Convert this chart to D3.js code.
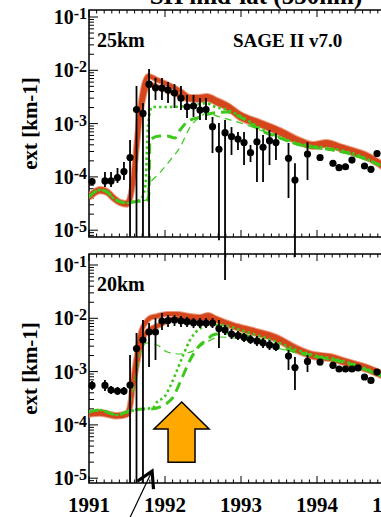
<!DOCTYPE html>
<html>
<head>
<meta charset="utf-8">
<script src="https://cdn.jsdelivr.net/npm/d3@7"></script>
<style>
  body { margin: 0; background: #fff; }
  svg text { font-family: "Liberation Serif", "Times New Roman", serif; font-weight: bold; fill: #000; }
</style>
</head>
<body>
<div id="chart"></div>
<script>
// ---- data (decimal year, extinction km-1) ----
const xTickYears = [1991, 1992, 1993, 1994, 1995];
const yTickExps = [-5, -4, -3, -2, -1];

// SAGE II v7.0 monthly means, 25 km
const obs25Year = [1991.04, 1991.21, 1991.29, 1991.375, 1991.46, 1991.54, 1991.625, 1991.71, 1991.79, 1991.875,
  1991.96, 1992.04, 1992.125, 1992.21, 1992.29, 1992.375, 1992.46, 1992.54, 1992.625, 1992.71,
  1992.79, 1992.875, 1992.96, 1993.04, 1993.125, 1993.21, 1993.29, 1993.375, 1993.46, 1993.625,
  1993.71, 1993.875, 1994.04, 1994.21, 1994.29, 1994.375, 1994.46, 1994.625, 1994.71, 1994.79];
const obs25Ext = [8.2e-5, 8.4e-5, 8.4e-5, 9.7e-5, 1.26e-4, 2.3e-4, 1.84e-3, 1.55e-3, 5.5e-3, 4.7e-3,
  4.66e-3, 4.27e-3, 3.75e-3, 3.0e-3, 2.07e-3, 2.14e-3, 1.8e-3, 1.84e-3, 8.75e-4, 3.3e-4,
  6.75e-4, 5.73e-4, 5.14e-4, 4.4e-4, 2.85e-4, 4.57e-4, 3.59e-4, 4.78e-4, 4.4e-4, 2.23e-4,
  8.75e-5, 2.69e-4, 2.31e-4, 1.8e-4, 1.49e-4, 1.55e-4, 2.07e-4, 1.6e-4, 1.39e-4, 2.75e-4];
const obs25Lo = [7.05e-5, 6.46e-5, 6.46e-5, 7.7e-5, 8.75e-5, 7.5e-6, 7.5e-6, 7.5e-6, 7.5e-6, 2.77e-3,
  2.77e-3, 2.43e-3, 1.96e-3, 1.8e-3, 1.27e-3, 1.33e-3, 1.17e-3, 1.17e-3, 2.8e-4, 6.5e-6,
  1.16e-6, 2.58e-4, 3.2e-4, 1.67e-4, 1.9e-4, 8.0e-5, 8.0e-5, 1.67e-4, 2.07e-4, 4.02e-5,
  3.14e-6, 8.75e-5, null, null, null, null, null, null, null, null];
const obs25Hi = [9.5e-5, 1.24e-4, 1.24e-4, 1.47e-4, 1.9e-4, 4.92e-4, 5.07e-3, 2.43e-3, 1.06e-2, 7.2e-3,
  7.2e-3, 6.0e-3, 5.5e-3, 5.07e-3, 3.44e-3, 3.44e-3, 3.02e-3, 3.02e-3, 1.33e-3, 1.03e-3,
  1.17e-3, 8.6e-4, 6.95e-4, 6.95e-4, 3.98e-4, 8.3e-4, 6.1e-4, 7.6e-4, 6.6e-4, 4.33e-4,
  1.8e-4, 4.52e-4, null, null, null, null, null, null, null, null];

// SAGE II v7.0 monthly means, 20 km
const obs20Year = [1991.04, 1991.21, 1991.29, 1991.375, 1991.46, 1991.54, 1991.625, 1991.71, 1991.79, 1991.875,
  1991.96, 1992.04, 1992.125, 1992.21, 1992.29, 1992.375, 1992.46, 1992.54, 1992.625, 1992.71,
  1992.79, 1992.875, 1992.96, 1993.04, 1993.125, 1993.21, 1993.29, 1993.375, 1993.46, 1993.625,
  1993.71, 1993.875, 1994.04, 1994.21, 1994.29, 1994.375, 1994.46, 1994.54, 1994.625, 1994.71, 1994.79];
const obs20Ext = [5.5e-4, 5.5e-4, 4.52e-4, 4.33e-4, 4.33e-4, 5.6e-4, 2.71e-3, 3.92e-3, 5.53e-3, 5.53e-3,
  8.9e-3, 9.1e-3, 9.3e-3, 8.9e-3, 8.63e-3, 8.27e-3, 8.17e-3, 8.17e-3, 8.17e-3, 6.44e-3,
  6.03e-3, 5.07e-3, 4.75e-3, 4.4e-3, 4.0e-3, 3.75e-3, 3.48e-3, 3.16e-3, 2.93e-3, 1.96e-3,
  1.19e-3, 1.55e-3, 1.51e-3, 1.31e-3, 1.12e-3, 1.12e-3, 1.12e-3, 1.17e-3, 7.92e-4, 6.84e-4, 9.8e-4];
const obs20Lo = [4.52e-4, 4.33e-4, 3.8e-4, 3.64e-4, 3.64e-4, 8.1e-6, 8.1e-6, 8.1e-6, 1.22e-3, 1.65e-3,
  6.03e-3, 6.87e-3, 7.18e-3, 6.87e-3, 6.87e-3, 6.58e-3, 6.58e-3, 6.58e-3, 6.58e-3, 2.77e-3,
  4.86e-3, 4.09e-3, 3.92e-3, 3.59e-3, 3.3e-3, 3.02e-3, 2.77e-3, 2.54e-3, 2.43e-3, 1.07e-3,
  4.52e-4, 9.8e-4, null, null, null, null, null, null, null, null, null];
const obs20Hi = [6.67e-4, 6.95e-4, 5.37e-4, 5.14e-4, 5.14e-4, 2.05e-3, 5.3e-3, 9.3e-3, 8.17e-3, 1.01e-2,
  1.26e-2, 1.15e-2, 1.15e-2, 1.1e-2, 1.06e-2, 1.01e-2, 1.01e-2, 1.01e-2, 1.01e-2, 9.3e-3,
  7.5e-3, 6.3e-3, 5.78e-3, 5.3e-3, 4.86e-3, 4.66e-3, 4.27e-3, 3.92e-3, 3.59e-3, 2.54e-3,
  1.88e-3, 2.05e-3, null, null, null, null, null, null, null, null, null];

// model runs, 25 km
const red25a = [[1991.0,4.4e-5],[1991.145,5.9e-5],[1991.24,5.4e-5],[1991.32,4.2e-5],[1991.41,3.4e-5],[1991.5,3.24e-5],
  [1991.54,4.2e-5],[1991.58,8.75e-5],[1991.63,4.9e-4],[1991.67,1.8e-3],[1991.71,4.3e-3],[1991.78,7.8e-3],
  [1991.9,6.6e-3],[1992.03,5.5e-3],[1992.2,4.1e-3],[1992.33,3.16e-3],[1992.46,3.16e-3],[1992.55,3.3e-3],
  [1992.68,2.77e-3],[1992.82,2.23e-3],[1992.99,1.51e-3],[1993.25,1.07e-3],[1993.51,7.6e-4],[1993.78,4.92e-4],
  [1993.95,4.14e-4],[1994.13,4.52e-4],[1994.3,3.8e-4],[1994.47,3.2e-4],[1994.66,2.58e-4],[1994.88,1.67e-4]];
const red25b = [[1991.0,4.0e-5],[1991.145,5.4e-5],[1991.24,5.0e-5],[1991.32,3.9e-5],[1991.41,3.2e-5],[1991.5,3.0e-5],
  [1991.54,3.8e-5],[1991.58,8.0e-5],[1991.63,3.8e-4],[1991.67,1.27e-3],[1991.72,3.3e-3],[1991.78,5.5e-3],
  [1991.93,4.66e-3],[1992.1,3.9e-3],[1992.29,2.9e-3],[1992.46,2.77e-3],[1992.55,2.9e-3],[1992.68,2.43e-3],
  [1992.82,1.96e-3],[1992.99,1.27e-3],[1993.25,9.4e-4],[1993.51,6.6e-4],[1993.78,4.33e-4],[1993.95,3.64e-4],
  [1994.13,3.98e-4],[1994.3,3.33e-4],[1994.47,2.8e-4],[1994.66,2.26e-4],[1994.88,1.47e-4]];
const dot25 = [[1991.0,4.2e-5],[1991.145,5.7e-5],[1991.24,5.2e-5],[1991.32,4.0e-5],[1991.41,3.4e-5],[1991.5,3.24e-5],
  [1991.57,3.4e-5],[1991.67,3.7e-5],[1991.74,6.5e-5],[1991.78,1.03e-3],[1991.83,2.05e-3],[1992.03,2.05e-3],
  [1992.29,2.14e-3],[1992.46,2.33e-3],[1992.55,2.43e-3],[1992.63,2.14e-3],[1992.82,1.8e-3],[1992.99,1.39e-3],
  [1993.25,8.3e-4],[1993.51,5.6e-4],[1993.78,4.14e-4],[1994.04,3.64e-4],[1994.3,3.2e-4],[1994.57,2.47e-4],[1994.88,1.47e-4]];
const dash25 = [[1991.0,4.2e-5],[1991.145,5.7e-5],[1991.24,5.2e-5],[1991.32,4.0e-5],[1991.41,3.4e-5],[1991.5,3.24e-5],
  [1991.6,3.4e-5],[1991.78,3.7e-5],[1991.79,5.7e-5],[1991.8,4.92e-4],[1991.93,5.85e-4],[1992.03,5.85e-4],
  [1992.13,5.37e-4],[1992.2,7.6e-4],[1992.29,1.07e-3],[1992.46,1.33e-3],[1992.63,1.58e-3],[1992.82,1.65e-3],
  [1992.99,1.33e-3],[1993.25,7.6e-4],[1993.51,5.37e-4],[1993.78,3.98e-4],[1994.04,3.48e-4],[1994.3,3.06e-4],
  [1994.57,2.36e-4],[1994.88,1.53e-4]];
const thin25 = [[1991.0,4.2e-5],[1991.145,5.7e-5],[1991.24,5.2e-5],[1991.32,4.0e-5],[1991.41,3.4e-5],[1991.5,3.24e-5],
  [1991.6,3.4e-5],[1991.76,3.7e-5],[1991.78,6.46e-5],[1991.93,1.18e-4],[1992.07,2.07e-4],[1992.2,3.64e-4],
  [1992.33,8.6e-4],[1992.46,1.33e-3],[1992.55,1.58e-3],[1992.72,1.33e-3],[1992.99,1.03e-3],[1993.25,7.6e-4],
  [1993.51,5.37e-4],[1993.78,3.8e-4],[1994.04,3.33e-4],[1994.3,2.92e-4],[1994.57,2.26e-4],[1994.88,1.47e-4]];

// model runs, 20 km
const red20a = [[1991.0,1.67e-4],[1991.145,1.75e-4],[1991.28,1.6e-4],[1991.37,1.53e-4],[1991.5,1.67e-4],[1991.54,2.36e-4],
  [1991.58,6.95e-4],[1991.63,2.05e-3],[1991.68,5.3e-3],[1991.75,8.5e-3],[1991.8,1.01e-2],[1991.895,1.1e-2],
  [1992.03,1.2e-2],[1992.16,1.2e-2],[1992.33,1.1e-2],[1992.46,1.06e-2],[1992.57,1.15e-2],[1992.66,1.01e-2],
  [1992.9,7.5e-3],[1993.16,6.03e-3],[1993.47,4.46e-3],[1993.74,2.77e-3],[1993.95,2.14e-3],[1994.17,1.96e-3],
  [1994.395,1.58e-3],[1994.66,1.22e-3],[1994.88,9.0e-4]];
const red20b = [[1991.0,1.55e-4],[1991.145,1.62e-4],[1991.28,1.5e-4],[1991.37,1.43e-4],[1991.5,1.55e-4],[1991.54,2.1e-4],
  [1991.58,5.6e-4],[1991.63,1.33e-3],[1991.68,3.16e-3],[1991.76,5.53e-3],[1991.93,7.5e-3],[1992.1,9.7e-3],
  [1992.29,1.01e-2],[1992.46,1.01e-2],[1992.55,1.01e-2],[1992.66,9.3e-3],[1992.9,6.87e-3],[1993.16,5.3e-3],
  [1993.47,3.92e-3],[1993.74,2.43e-3],[1993.95,1.88e-3],[1994.17,1.72e-3],[1994.395,1.39e-3],[1994.66,1.07e-3],[1994.88,7.92e-4]];
const dot20 = [[1991.0,1.75e-4],[1991.145,1.9e-4],[1991.37,1.53e-4],[1991.5,1.75e-4],[1991.71,1.99e-4],[1991.84,2.07e-4],
  [1991.895,2.69e-4],[1992.0,3.48e-4],[1992.07,5.37e-4],[1992.16,1.07e-3],[1992.24,2.05e-3],[1992.33,3.92e-3],
  [1992.42,5.78e-3],[1992.55,7.18e-3],[1992.72,7.5e-3],[1992.99,6.03e-3],[1993.16,5.07e-3],[1993.47,3.59e-3],
  [1993.74,2.54e-3],[1993.95,2.05e-3],[1994.17,1.8e-3],[1994.395,1.51e-3],[1994.66,1.12e-3],[1994.88,8.26e-4]];
const dash20 = [[1991.0,1.75e-4],[1991.145,1.9e-4],[1991.37,1.53e-4],[1991.5,1.75e-4],[1991.71,1.99e-4],[1991.8,1.99e-4],
  [1992.03,2.58e-4],[1992.1,3.2e-4],[1992.2,6.38e-4],[1992.33,1.65e-3],[1992.46,3.16e-3],[1992.55,3.92e-3],
  [1992.63,4.86e-3],[1992.79,5.3e-3],[1993.03,4.86e-3],[1993.25,3.92e-3],[1993.47,3.02e-3],[1993.74,2.33e-3],
  [1993.95,1.96e-3],[1994.17,1.72e-3],[1994.395,1.45e-3],[1994.66,1.07e-3],[1994.88,7.92e-4]];
const thin20 = [[1991.0,1.75e-4],[1991.145,1.9e-4],[1991.37,1.53e-4],[1991.5,1.75e-4],[1991.58,4.52e-4],[1991.63,1.07e-3],
  [1991.68,2.33e-3],[1991.76,3.44e-3],[1991.895,3.16e-3],[1992.03,2.33e-3],[1992.2,2.14e-3],[1992.37,2.43e-3],
  [1992.55,3.59e-3],[1992.72,4.46e-3],[1992.9,4.27e-3],[1993.16,3.59e-3],[1993.47,2.77e-3],[1993.74,2.23e-3],
  [1993.95,1.88e-3],[1994.17,1.65e-3],[1994.395,1.39e-3],[1994.66,1.03e-3],[1994.88,7.6e-4]];

// annotations (20 km panel, data coords)
const upArrowYear = [1992.22, 1992.58, 1992.395, 1992.395, 1992.04, 1992.04, 1991.855];
const upArrowExt = [2.69e-4, 8.4e-5, 8.4e-5, 2.0e-5, 2.0e-5, 8.4e-5, 8.4e-5];
const eruptArrow = { from: [1991.52, 1.6e-6], to: [1991.83, 1.36e-5] };

// ---- layout ----
const W = 381, H = 517;
const left = 89, right = 393;
const decade = 53.3;
const red = '#d5461c', redEdge = '#eb9a7c', green = '#3ec81c';

const x = d3.scaleLinear().domain([1991, 1995]).range([left, right]);

const panels = [
  { top: 10, bottom: 237, y1: 17, label: '25km', obsY: obs25Year, obsV: obs25Ext, lo: obs25Lo, hi: obs25Hi,
    red: [red25a, red25b], dot: dot25, dash: dash25, thin: thin25 },
  { top: 254, bottom: 483, y1: 265, label: '20km', obsY: obs20Year, obsV: obs20Ext, lo: obs20Lo, hi: obs20Hi,
    red: [red20a, red20b], dot: dot20, dash: dash20, thin: thin20 }
];

const svg = d3.select('#chart').append('svg')
  .attr('width', W)
  .attr('height', H)
  .style('display', 'block');

// title, mostly cut off at the top
svg.append('text')
  .attr('x', 256).attr('y', 4)
  .attr('text-anchor', 'middle')
  .style('font-size', '25px')
  .text('SH mid-lat (550nm)');

panels.forEach((p, i) => {
  const y = d3.scaleLog().domain([1e-5, 1e-1]).range([p.y1 + 4 * decade, p.y1]);
  const g = svg.append('g');

  g.append('clipPath').attr('id', 'clip' + i)
    .append('rect')
    .attr('x', left).attr('y', p.top)
    .attr('width', right - left).attr('height', p.bottom - p.top);

  // frame
  g.append('rect')
    .attr('x', left).attr('y', p.top)
    .attr('width', right - left).attr('height', p.bottom - p.top)
    .attr('fill', 'none').attr('stroke', '#000').attr('stroke-width', 1.5);

  // log ticks on left axis
  const yt = [];
  for (let e = -6; e <= 0; e++) {
    for (let k = 1; k <= 9; k++) yt.push({ v: k * Math.pow(10, e), major: k === 1 });
  }
  g.selectAll('.yt').data(yt.filter(t => y(t.v) > p.top + 0.5 && y(t.v) < p.bottom - 0.5))
    .enter().append('line')
    .attr('x1', left).attr('x2', t => left + (t.major ? 9 : 5))
    .attr('y1', t => y(t.v)).attr('y2', t => y(t.v))
    .attr('stroke', '#000').attr('stroke-width', 1);

  // time ticks, top and bottom
  const xt = d3.range(0, 41).map(k => ({ yr: 1991 + k / 10, major: k % 10 === 0 }));
  [p.bottom, p.top].forEach((edge, j) => {
    const dir = j === 0 ? -1 : 1;
    g.selectAll('.xt' + j).data(xt).enter().append('line')
      .attr('x1', t => x(t.yr)).attr('x2', t => x(t.yr))
      .attr('y1', edge).attr('y2', t => edge + dir * (t.major ? 7 : 3.5))
      .attr('stroke', '#000').attr('stroke-width', 1);
  });

  // y tick labels 10^n
  const lab = g.selectAll('.ylab').data(yTickExps).enter().append('text')
    .attr('x', 87).attr('y', e => y(Math.pow(10, e)) + 7)
    .attr('text-anchor', 'end')
    .style('font-size', '20px');
  lab.append('tspan').text('10');
  lab.append('tspan').attr('dy', -5).style('font-size', '16px').text(e => String(e));

  // axis title
  g.append('text')
    .attr('transform', `translate(37,${(p.top + p.bottom) / 2}) rotate(-90)`)
    .attr('text-anchor', 'middle')
    .style('font-size', '21px')
    .text('ext [km-1]');

  g.append('text').attr('x', 97).attr('y', p.top + 37)
    .style('font-size', '20px').text(p.label);

  // model curves
  const line = d3.line()
    .x(d => x(d[0])).y(d => y(d[1]))
    .curve(d3.curveMonotoneX);
  const curves = g.append('g').attr('clip-path', `url(#clip${i})`);
  p.red.forEach(r => {
    curves.append('path').attr('d', line(r))
      .attr('fill', 'none').attr('stroke', redEdge).attr('stroke-width', 6)
      .attr('stroke-linejoin', 'round');
  });
  p.red.forEach(r => {
    curves.append('path').attr('d', line(r))
      .attr('fill', 'none').attr('stroke', red).attr('stroke-width', 4)
      .attr('stroke-linejoin', 'round');
  });
  curves.append('path').attr('d', line(p.thin))
    .attr('fill', 'none').attr('stroke', green).attr('stroke-width', 1.2)
    .attr('stroke-dasharray', '7,5');
  curves.append('path').attr('d', line(p.dash))
    .attr('fill', 'none').attr('stroke', green).attr('stroke-width', 3)
    .attr('stroke-dasharray', '10,6');
  curves.append('path').attr('d', line(p.dot))
    .attr('fill', 'none').attr('stroke', green).attr('stroke-width', 2.6)
    .attr('stroke-dasharray', '2.5,3');

  // observations with error bars (not clipped)
  const obs = p.obsY.map((yr, k) => ({ yr, v: p.obsV[k], lo: p.lo[k], hi: p.hi[k] }));
  g.selectAll('.err').data(obs.filter(d => d.lo !== null)).enter().append('line')
    .attr('x1', d => x(d.yr)).attr('x2', d => x(d.yr))
    .attr('y1', d => y(d.hi)).attr('y2', d => y(d.lo))
    .attr('stroke', '#000').attr('stroke-width', 1.8);
  g.selectAll('.obs').data(obs).enter().append('circle')
    .attr('cx', d => x(d.yr)).attr('cy', d => y(d.v))
    .attr('r', 3.6).attr('fill', '#000');

  if (i === 0) {
    g.append('text').attr('x', 233).attr('y', p.top + 37)
      .style('font-size', '19px').text('SAGE II v7.0');
  } else {
    // year labels
    g.selectAll('.xlab').data(xTickYears).enter().append('text')
      .attr('x', d => x(d)).attr('y', 512)
      .attr('text-anchor', 'middle')
      .style('font-size', '21px')
      .text(d => d);

    // big orange arrow
    const pts = upArrowYear.map((yr, k) => [x(yr), y(upArrowExt[k])]);
    g.append('polygon')
      .attr('points', pts.map(q => q.join(',')).join(' '))
      .attr('fill', '#ffa800').attr('stroke', '#000').attr('stroke-width', 1.5)
      .attr('stroke-linejoin', 'miter');

    // eruption arrow
    const a0 = [x(eruptArrow.from[0]), y(eruptArrow.from[1])];
    const a1 = [x(eruptArrow.to[0]), y(eruptArrow.to[1])];
    svg.append('line')
      .attr('x1', a0[0]).attr('y1', a0[1]).attr('x2', a1[0]).attr('y2', a1[1])
      .attr('stroke', '#000').attr('stroke-width', 1.2);
    const ang = Math.atan2(a0[1] - a1[1], a0[0] - a1[0]);
    const head = [ang + Math.PI / 6, ang - Math.PI / 6].map(t => [a1[0] + 18 * Math.cos(t), a1[1] + 18 * Math.sin(t)]);
    svg.append('path')
      .attr('d', `M${head[0][0]},${head[0][1]}L${a1[0]},${a1[1]}L${head[1][0]},${head[1][1]}`)
      .attr('fill', 'none').attr('stroke', '#000').attr('stroke-width', 3.2)
      .attr('stroke-linejoin', 'miter');
  }
});
</script>
</body>
</html>
